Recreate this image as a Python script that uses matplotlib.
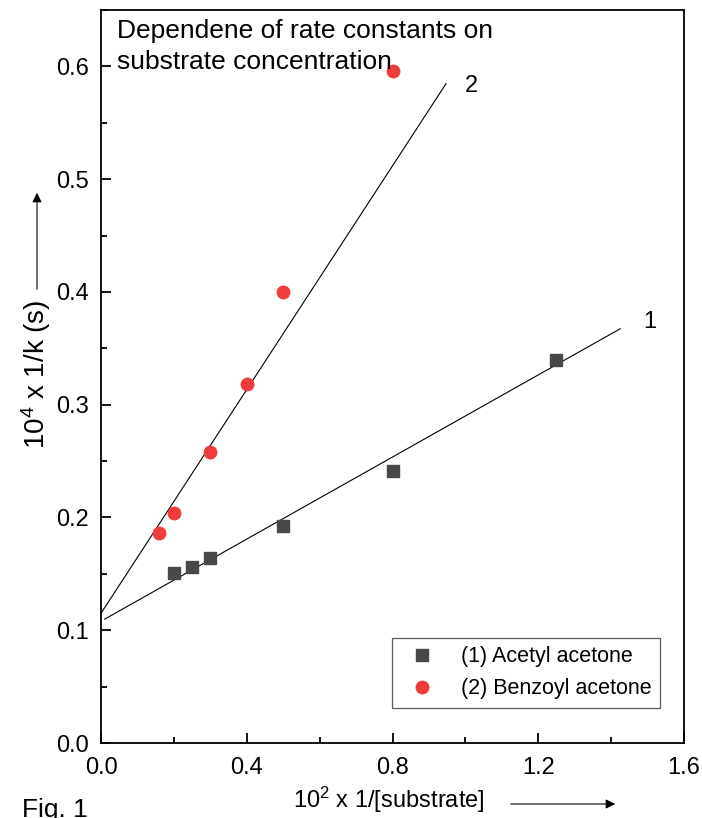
import numpy as np
import matplotlib
matplotlib.use("Agg")
import matplotlib.pyplot as plt
from matplotlib.ticker import MultipleLocator

plt.rcParams['font.family'] = ['Liberation Sans', 'DejaVu Sans']

# data
x_acetyl = [0.20, 0.25, 0.30, 0.50, 0.80, 1.25]
y_acetyl = [0.151, 0.156, 0.164, 0.192, 0.241, 0.340]
x_benzoyl = [0.16, 0.20, 0.30, 0.40, 0.50, 0.80]
y_benzoyl = [0.186, 0.204, 0.258, 0.318, 0.400, 0.596]

# fitted lines (intercept, slope, x range)
fit1 = (0.108, 0.182, [0.01, 1.425])
fit2 = (0.115, 0.496, [0.0, 0.947])

fig = plt.figure(figsize=(7.02, 8.18), dpi=100)
ax = fig.add_axes([101/702, 75/818, 583/702, 733/818])

for b, m, xr in (fit1, fit2):
    xr = np.array(xr)
    ax.plot(xr, b + m*xr, color='black', lw=0.8, zorder=1)

ax.plot(x_acetyl, y_acetyl, 's', color='#484848', ms=9, label='(1) Acetyl acetone', zorder=3)
ax.plot(x_benzoyl, y_benzoyl, 'o', color='#f03c3c', ms=10, mec='none', label='(2) Benzoyl acetone', zorder=3)

ax.text(1.507, 0.373, '1', fontsize=17, ha='center', va='center')
ax.text(1.018, 0.583, '2', fontsize=17, ha='center', va='center')

ax.text(0.027, 0.988, 'Dependene of rate constants on\nsubstrate concentration',
        transform=ax.transAxes, fontsize=19, va='top', ha='left', linespacing=1.38)

ax.set_xlim(0, 1.6)
ax.set_ylim(0, 0.65)
ax.xaxis.set_major_locator(MultipleLocator(0.4))
ax.xaxis.set_minor_locator(MultipleLocator(0.2))
ax.yaxis.set_major_locator(MultipleLocator(0.1))
ax.yaxis.set_minor_locator(MultipleLocator(0.05))
ax.tick_params(which='both', direction='in', labelsize=17, width=1.3)
ax.tick_params(which='major', length=7)
ax.tick_params(which='minor', length=4)
ax.tick_params(axis='x', which='major', pad=10)
ax.tick_params(axis='y', which='major', pad=8.5)
for s in ax.spines.values():
    s.set_linewidth(1.3)

leg = ax.legend(loc='lower left', bbox_to_anchor=(0.499, 0.048), borderaxespad=0,
                fontsize=15.5, fancybox=False, frameon=True, handletextpad=0.8,
                borderpad=0.4, labelspacing=0.5)
leg.get_frame().set_edgecolor('#333333')
leg.get_frame().set_linewidth(0.9)

fig.text(293/702, 1 - 800/818, r'$\mathregular{10^2}$ x 1/[substrate]', fontsize=17,
         ha='left', va='center')
fig.text(36/702, 1 - 374/818, r'$\mathregular{10^4}$ x 1/k (s)', fontsize=20,
         ha='center', va='center', rotation=90)
fig.text(22/702, 1 - 810/818, 'Fig. 1', fontsize=19, ha='left', va='center')

fig.add_artist(matplotlib.patches.FancyArrowPatch(
    (508/702, 1 - 804/818), (618/702, 1 - 804/818), transform=fig.transFigure,
    arrowstyle='-|>', mutation_scale=14, lw=0.8, color='black'))
fig.add_artist(matplotlib.patches.FancyArrowPatch(
    (37/702, 1 - 292/818), (37/702, 1 - 190/818), transform=fig.transFigure,
    arrowstyle='-|>', mutation_scale=14, lw=0.8, color='black'))

fig.savefig('out.png', dpi=100)
